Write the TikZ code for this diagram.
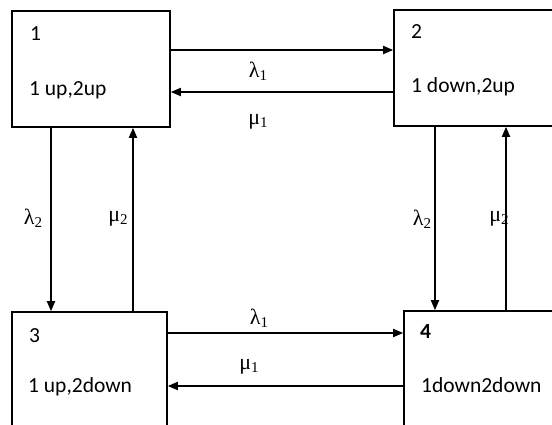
\documentclass[tikz,border=0pt]{standalone}
\usepackage{fontspec}
\setmainfont{Carlito}
\newfontfamily\gk{Liberation Serif}
\usetikzlibrary{arrows.meta}
\newcommand{\rlab}[2]{{\gk #1\raisebox{-0.3ex}{\fontsize{15}{16}\selectfont #2}}}
\begin{document}
\begin{tikzpicture}[x=1pt,y=-1pt,
  box/.style={draw,line width=1.6pt,minimum width=#1,inner sep=0pt},
  arr/.style={line width=1.8pt,-{Triangle[length=10pt,width=8pt]}},
  txt/.style={anchor=base west,inner sep=0pt,font=\fontsize{21.5}{24}\selectfont},
  gl/.style={inner sep=0pt,font=\fontsize{22}{24}\selectfont}]
\useasboundingbox (0,0) rectangle (552,424);
\begin{scope}
\clip (0,0) rectangle (552,424);
\node[box=158pt,minimum height=116pt] (b1) at (91,69) {};
\node[box=166pt,minimum height=116pt] (b2) at (477,68) {};
\node[box=155pt,minimum height=128pt] (b3) at (89.5,376) {};
\node[box=156pt,minimum height=129pt] (b4) at (482,375.5) {};
\end{scope}
% texts
\node[txt] (n1) at (30,40) {1};
\node[txt] (t1) at (29,95) {1 up,2up};
\node[txt] (n2) at (411,38) {2};
\node[txt] (t2) at (411,92) {1 down,2up};
\node[txt] (n3) at (29,342) {3};
\node[txt] (t3) at (28,392) {1 up,2down};
\node[txt] (n4) at (420,338) {\textbf{4}};
\node[txt] (t4) at (421,392) {1down2down};
% horizontal arrows
\draw[arr] (b1.east |- 0,50) -- (b2.west |- 0,50);
\draw[arr] (b2.west |- 0,92) -- (b1.east |- 0,92);
\draw[arr] (b3.east |- 0,333) -- (b4.west |- 0,333);
\draw[arr] (b4.west |- 0,386) -- (b3.east |- 0,386);
% vertical arrows
\draw[arr] (b1.south -| 51,0) -- (b3.north -| 51,0);
\draw[arr] (b3.north -| 133,0) -- (b1.south -| 133,0);
\draw[arr] (b2.south -| 435,0) -- (b4.north -| 435,0);
\draw[arr] (b4.north -| 506,0) -- (b2.south -| 506,0);
% rate labels
\node[gl] (l1) at (258,71) {\rlab{λ}{1}};
\node[gl] (m1) at (258,122) {\rlab{μ}{1}};
\node[gl] (l1b) at (259,318) {\rlab{λ}{1}};
\node[gl] (m1b) at (249,367) {\rlab{μ}{1}};
\node[gl] (l2) at (33,218) {\rlab{λ}{2}};
\node[gl] (m2) at (118,219) {\rlab{μ}{2}};
\node[gl] (l2r) at (422,219) {\rlab{λ}{2}};
\node[gl] (m2r) at (499,219) {\rlab{μ}{2}};
\end{tikzpicture}
\end{document}
